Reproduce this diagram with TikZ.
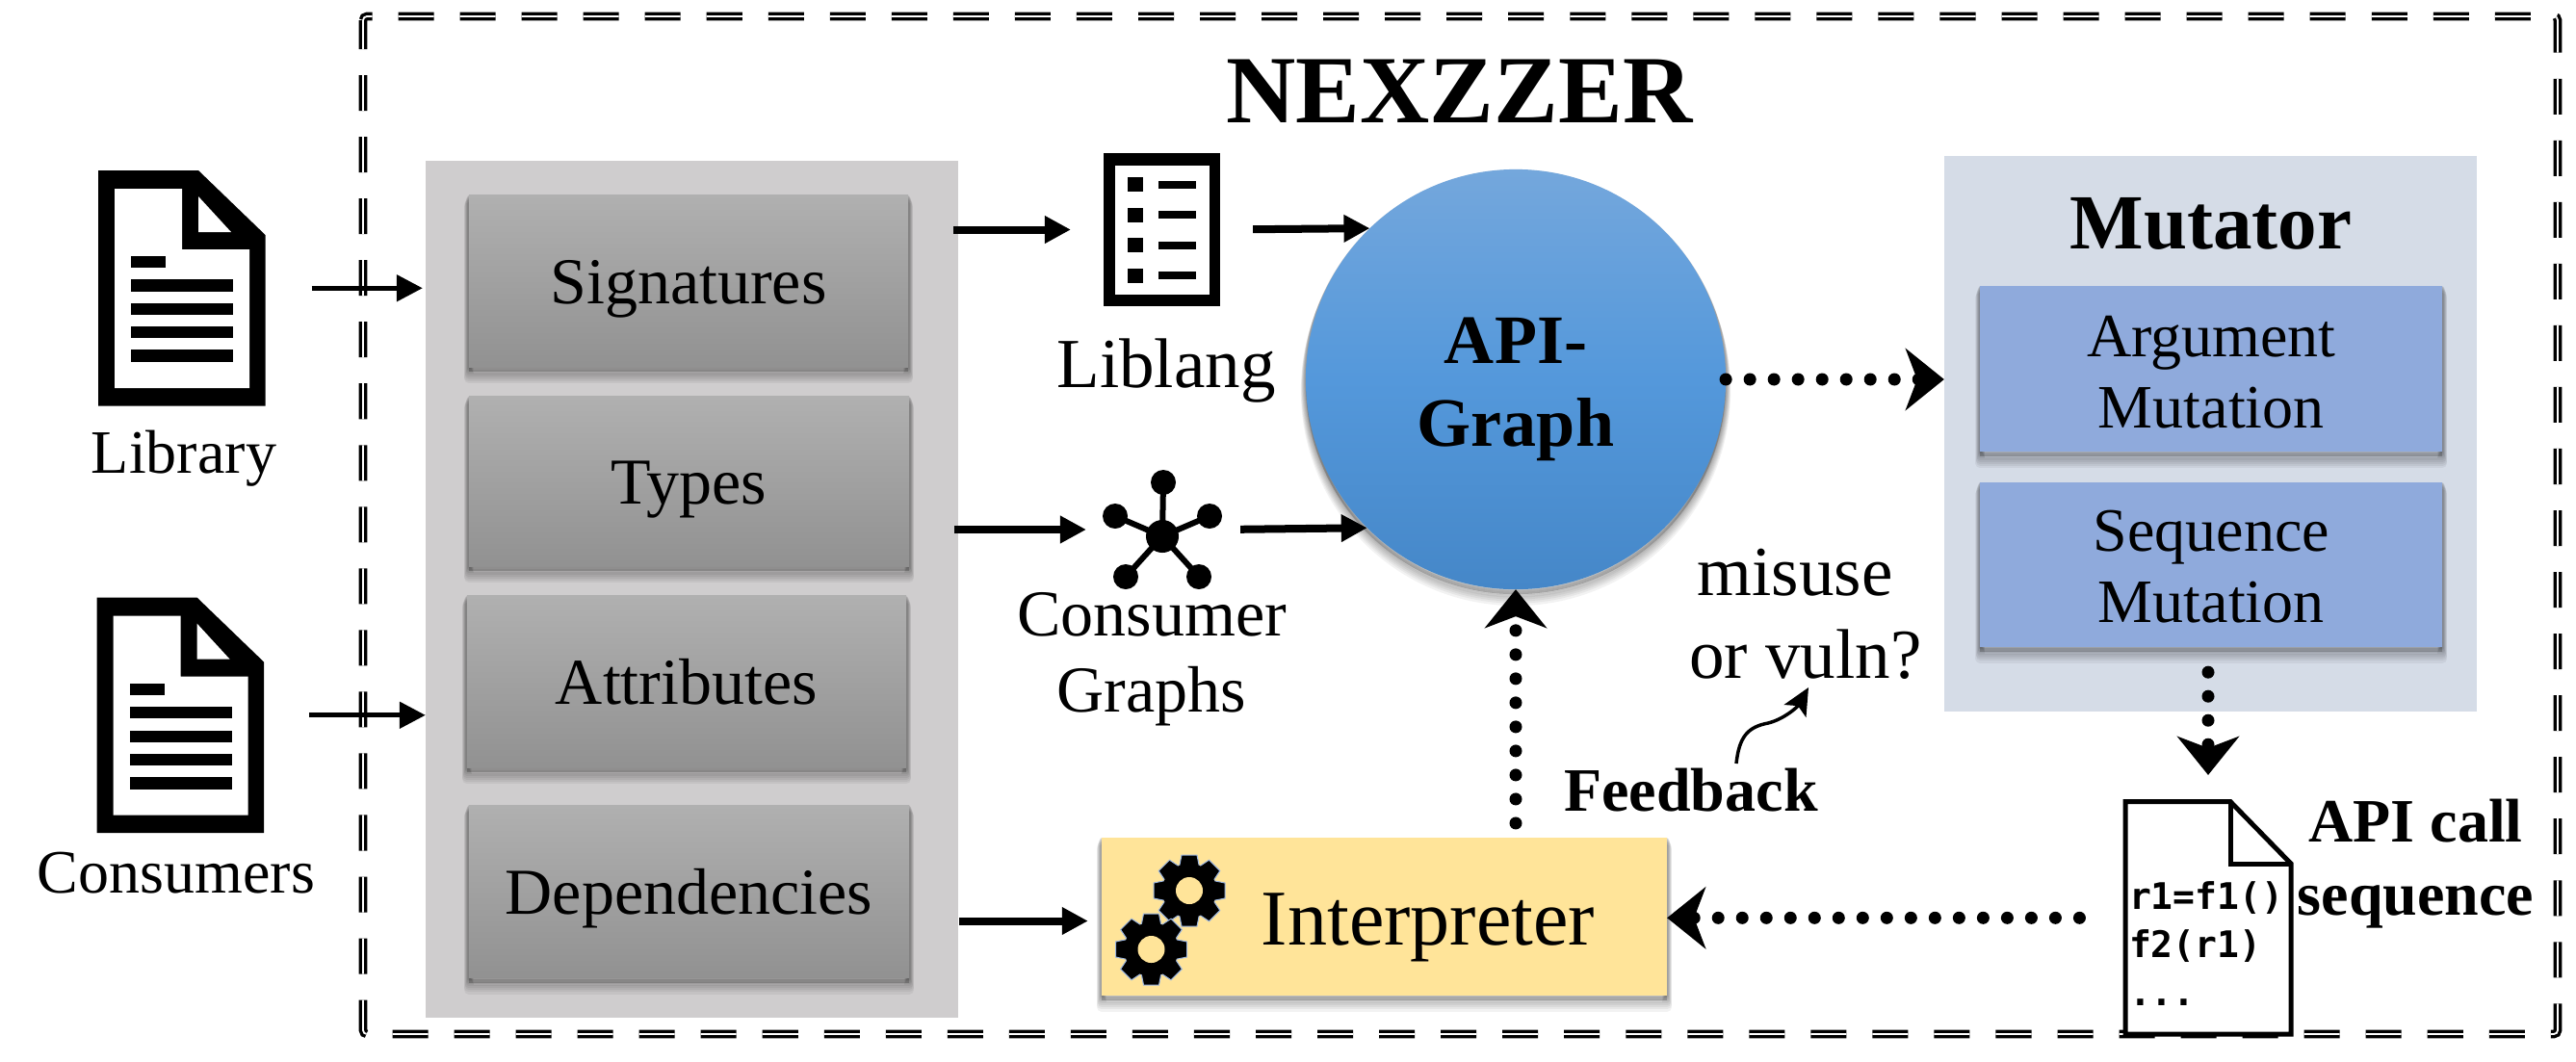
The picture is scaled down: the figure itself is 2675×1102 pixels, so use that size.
\documentclass[tikz,border=0pt]{standalone}
\usepackage{fontspec}
\setmainfont{Liberation Serif}
\newfontfamily\codefont{DejaVu Sans Mono}
\usetikzlibrary{arrows.meta}
\newcommand{\fpx}[2]{\fontsize{\dimexpr 0.28453pt*#1\relax}{\dimexpr 0.28453pt*#2\relax}\selectfont}
\definecolor{panelgray}{HTML}{CFCDCE}
\definecolor{panelblue}{HTML}{D5DCE7}
\definecolor{boxblue}{HTML}{8FAADC}
\definecolor{boxyellow}{HTML}{FFE499}
\definecolor{geargray}{HTML}{9DB7E0}
\definecolor{apitop}{HTML}{74A7DC}
\definecolor{apimid}{HTML}{5498DB}
\definecolor{apibot}{HTML}{4587C8}
\tikzset{
  x=0.01cm,y=-0.01cm,
  sh/.style 2 args={preaction={draw=black,opacity=.05,line width=#1,line join=round,transform canvas={yshift=-#2}}},
  softshadow/.style={preaction={fill=black,opacity=.18,transform canvas={yshift=-.05cm}},sh={.10cm}{.12cm},sh={.09cm}{.10cm},sh={.08cm}{.085cm},sh={.07cm}{.07cm},sh={.06cm}{.055cm},sh={.05cm}{.04cm},sh={.04cm}{.03cm},sh={.03cm}{.02cm},sh={.02cm}{.01cm}},
  panelbox/.style={rectangle,inner sep=0pt,outer sep=0pt},
  graybox/.style={panelbox,softshadow,top color=black!31,bottom color=black!43,font=\fpx{68}{78},text height=.47cm,text depth=0pt},
  bluebox/.style={panelbox,softshadow,fill=boxblue,font=\fpx{64}{74},align=center},
  label64/.style={inner sep=0pt,outer sep=0pt,anchor=base},
  iconbox/.style={rectangle,inner sep=0pt,outer sep=0pt},
  thinarrow/.style={-{Triangle[length=.27cm,width=.27cm]},line width=.05cm},
  thickarrow/.style={-{Triangle[length=.27cm,width=.27cm]},line width=.08cm},
  dotarrow/.style={-{Stealth[length=.40cm,width=.64cm,inset=.12cm]},line width=.13cm,line cap=round,dash pattern=on 0pt off .25cm},
  docicon/.pic={
    \fill[black] (0,0)--(104,0)--(173.5,67)--(173.5,244.5)--(0,244.5)--cycle;
    \fill[white] (17,19)--(87,19)--(87,82)--(157,82)--(157,226)--(17,226)--cycle;
    \fill[white] (104,27)--(138,64)--(104,64)--cycle;
    \fill[black] (34,89) rectangle (70,101);
    \fill[black] (34,113) rectangle (140,125.5);
    \fill[black] (34,138) rectangle (140,150);
    \fill[black] (34,162) rectangle (140,174);
    \fill[black] (34,186) rectangle (140,199);
  },
  gearicon/.pic={
    \foreach \a in {0,45,...,315}{
      \fill[black,draw=geargray,line width=.01cm,rotate=\a] (-8,-37) -- (8,-37) -- (11,-22) -- (-11,-22) -- cycle;
    }
    \fill[black] (0,0) circle[radius=.28cm];
    \fill[boxyellow] (0,0) circle[radius=.14cm];
  },
}
\begin{document}
\begin{tikzpicture}
\useasboundingbox (0,0) rectangle (2675,1102);
% outer frame
\draw[black,line width=.034cm,double=white,double distance=.018cm,dash pattern=on .37cm off .27cm,dash phase=.07cm,rounded corners=.04cm] (377,17) rectangle (2656,1074);
\node[label64,font=\fpx{100}{110}\bfseries] (title) at (1515.5,127) {NEXZZER};

% extractor panel
\node[panelbox,fill=panelgray,minimum width=5.53cm,minimum height=8.90cm] (panel) at (718.5,612) {};
\node[graybox,minimum width=4.56cm,minimum height=1.78cm] (sig) at (715,292) {Signatures};
\node[graybox,minimum width=4.57cm,minimum height=1.76cm] (typ) at (715.5,500) {Types};
\node[graybox,minimum width=4.56cm,minimum height=1.78cm] (att) at (713,708) {Attributes};
\node[graybox,minimum width=4.57cm,minimum height=1.79cm] (dep) at (715.5,926) {Dependencies};

% input documents
\node[iconbox,minimum width=1.735cm,minimum height=2.445cm] (libicon) at (188.75,299.25) {};
\pic at (102,177) {docicon};
\node[label64,font=\fpx{64}{70}] (libtext) at (191,491) {Library};
\node[iconbox,minimum width=1.735cm,minimum height=2.445cm] (conicon) at (187.25,742.75) {};
\pic at (100.5,620.5) {docicon};
\node[label64,font=\fpx{64}{70}] (context) at (183,927) {Consumers};
\draw[thinarrow,shorten <=.48cm,shorten >=.03cm] (libicon.east) -- (panel.west |- libicon.east);
\draw[thinarrow,shorten <=.47cm] (conicon.east) -- (panel.west |- conicon.east);

% liblang icon
\node[iconbox,fill=black,minimum width=1.21cm,minimum height=1.59cm] (listicon) at (1206.5,238.5) {};
\fill[white] (1158,172) rectangle (1256,306);
\foreach \yy in {191.5,223,254.6,286}{
  \fill[black] (1171,\yy-7.5) rectangle (1187,\yy+7.5);
  \fill[black] (1203,\yy-4) rectangle (1242,\yy+4);
}
\node[label64,font=\fpx{73}{80}] (liblang) at (1211,402) {Liblang};

% consumer graph icon
\node[iconbox,minimum width=1.24cm,minimum height=1.30cm] (graphicon) at (1207,550) {};
\foreach \gx/\gy in {1208/501,1158/536,1256/536,1169/599,1245/599}{
  \draw[black,line width=.06cm] (1207,557) -- (\gx,\gy);
  \fill[black] (\gx,\gy) circle[radius=.13cm];
}
\fill[black] (1207,557) circle[radius=.17cm];
\node[label64,font=\fpx{68}{79},align=center,anchor=center] (congraph) at (1196,684.5) {Consumer\\Graphs};

% API graph
\node[circle,inner sep=0pt,outer sep=0pt,minimum size=4.36cm,softshadow,top color=apitop,bottom color=apibot,middle color=apimid,font=\fpx{72}{86}\bfseries,align=center] (api) at (1574,394) {\rule{0pt}{.69cm}API-\\Graph};

% mutator
\node[panelbox,fill=panelblue,minimum width=5.526cm,minimum height=5.767cm] (mutpanel) at (2295.3,450.3) {};
\node[label64,font=\fpx{81}{90}\bfseries] (muttitle) at (2296,258) {Mutator};
\node[bluebox,minimum width=4.794cm,minimum height=1.72cm] (arg) at (2296.3,383) {\rule{0pt}{.50cm}Argument\\Mutation};
\node[bluebox,minimum width=4.794cm,minimum height=1.706cm] (seq) at (2296.3,586.3) {\rule{0pt}{.465cm}Sequence\\Mutation};

% interpreter
\node[panelbox,softshadow,fill=boxyellow,minimum width=5.87cm,minimum height=1.635cm,font=\fpx{82}{90},text height=.60cm,text depth=0pt] (interp) at (1437.5,951.75) {\hspace{.91cm}Interpreter};
\pic at (1235,925) {gearicon};
\pic at (1195.5,986) {gearicon};

% labels
\node[label64,font=\fpx{73}{86},align=center,anchor=center] (misuse) at (1875,638) {misuse\kern.22cm\\or vuln?};
\node[label64,font=\fpx{64}{70}\bfseries] (feedback) at (1756,842) {Feedback};

% API call file
\node[iconbox,minimum width=1.77cm,minimum height=2.466cm] (filenode) at (2293,953.3) {};
\draw[black,line width=.05cm,fill=white,line join=miter] (2207,832.5) -- (2316,832.5) -- (2379,897) -- (2379,1074) -- (2207,1074) -- cycle;
\draw[black,line width=.05cm] (2316,832.5) -- (2316,897) -- (2379,897);
\node[inner sep=0pt,outer sep=0pt,anchor=west,font=\codefont\fpx{38}{50}\bfseries,align=left] (code) at (2211,980) {r1=f1()\\f2(r1)\\...};
\node[label64,font=\fpx{64}{76}\bfseries,align=center,anchor=center] (apicall) at (2508.5,897) {API call\\sequence};

% connectors
\draw[thickarrow,shorten <=-.05cm,shorten >=.34cm] (panel.east |- listicon.west) -- (listicon.west);
\draw[thickarrow,shorten <=.34cm] (listicon.east) -- (api.134.4);
\draw[thickarrow,shorten <=-.04cm,shorten >=.17cm] (panel.east |- graphicon.west) -- (graphicon.west);
\draw[thickarrow,shorten <=.19cm] (graphicon.east) -- (api.225.6);
\coordinate (depout) at (996,956.5);
\draw[thickarrow,shorten >=.14cm] (depout) -- (depout -| interp.west);
\draw[dotarrow] (api.east) -- (mutpanel.west |- api.east);
\draw[dotarrow,shorten <=.15cm] (api.south |- interp.north) -- (api.south);
\draw[dotarrow,shorten <=.265cm,shorten >=.25cm] (filenode.north |- seq.south) -- (filenode.north);
\draw[dotarrow,shorten <=.45cm] (filenode.west) -- (interp.east |- filenode.west);
\coordinate (fbstart) at (1803,793);
\coordinate (fbtip) at (1878,714);
\draw[-{Stealth[length=.28cm,width=.26cm,inset=.06cm]},line width=.035cm] (fbstart) .. controls (1806,765) and (1815,755) .. (1836,751) .. controls (1852,747) and (1866,735) .. (fbtip);
\end{tikzpicture}
\end{document}
